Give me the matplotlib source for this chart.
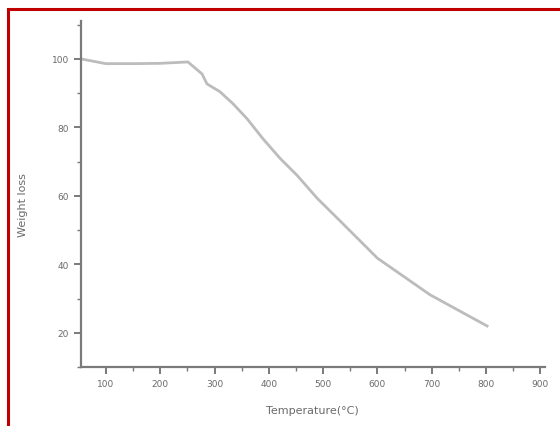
import matplotlib
matplotlib.use("Agg")
import matplotlib.pyplot as plt
from matplotlib.patches import Rectangle
from matplotlib.ticker import MultipleLocator

# TGA curve
temperature = [54, 80, 100, 150, 200, 251, 277, 286, 310, 334, 360, 389, 421,
               452, 489, 526, 600, 697, 802]
weight = [100, 99.2, 98.6, 98.6, 98.7, 99.1, 95.6, 92.7, 90.4, 86.9, 82.5,
          76.7, 70.9, 66.0, 59.3, 53.5, 41.8, 31.1, 22.0]

x_ticks = [100, 200, 300, 400, 500, 600, 700, 800, 900]
y_ticks = [20, 40, 60, 80, 100]

axis_grey = '#7a7a7a'
text_grey = '#6a6a6a'

fig = plt.figure(figsize=(5.6, 4.27), dpi=100)
ax = fig.add_axes([0.1446, 0.138, 0.828, 0.810])

ax.plot(temperature, weight, color='#bcbcbc', linewidth=2.0)

ax.set_xlim(54, 908)
ax.set_ylim(10, 111)
ax.set_xticks(x_ticks)
ax.set_yticks(y_ticks)
ax.xaxis.set_minor_locator(MultipleLocator(50))
ax.yaxis.set_minor_locator(MultipleLocator(10))

for side in ['top', 'right']:
    ax.spines[side].set_visible(False)
for side in ['left', 'bottom']:
    ax.spines[side].set_color(axis_grey)
    ax.spines[side].set_linewidth(1.6)

ax.tick_params(which='major', direction='out', length=5, width=1.4,
               colors=axis_grey, labelcolor=text_grey, labelsize=6.5)
ax.tick_params(which='minor', direction='out', length=3, width=1.0,
               colors=axis_grey)

ax.set_xlabel('Temperature(°C)', fontsize=8, color=text_grey, labelpad=12)
ax.set_ylabel('Weight loss', fontsize=8, color=text_grey, labelpad=11)
ax.yaxis.set_label_coords(-0.115, 0.47)

# red frame around the picture
fig.patches.append(Rectangle((8 / 560, -0.05), 1.2, 1 - 10 / 427 + 0.05,
                             transform=fig.transFigure, fill=False,
                             edgecolor='#c00000', linewidth=2.2))

fig.savefig('out.png', dpi=100, facecolor='white')
